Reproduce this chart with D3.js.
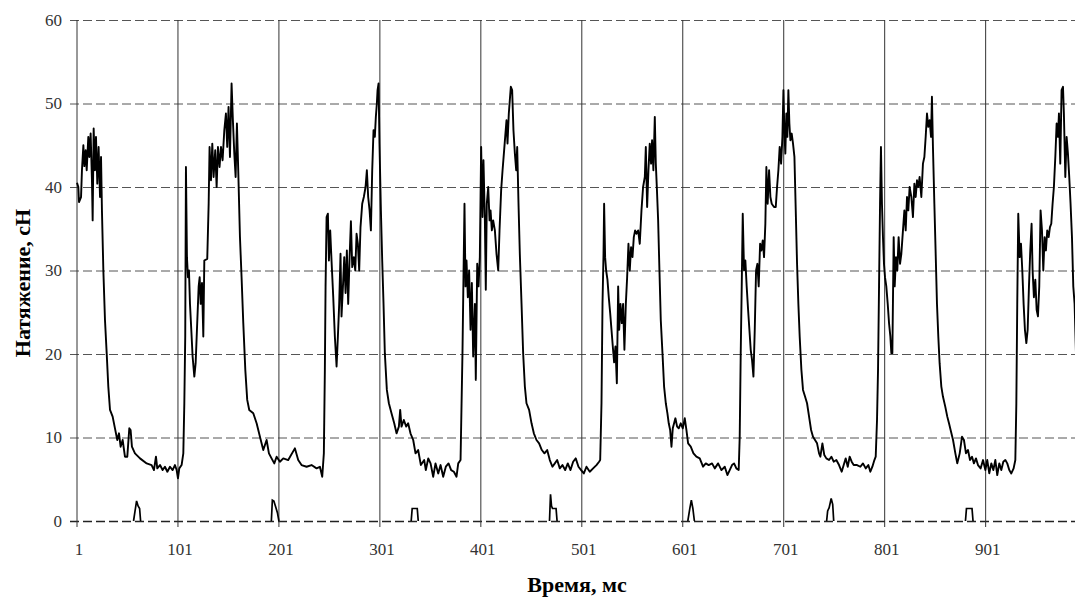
<!DOCTYPE html>
<html>
<head>
<meta charset="utf-8">
<script src="https://cdn.jsdelivr.net/npm/d3@7"></script>
<style>
  html, body { margin: 0; padding: 0; background: #fff; }
  svg { display: block; }
</style>
</head>
<body>
<div id="chart"></div>
<script>
// Tension trace: [time, ms ; tension, cN]
const tension = [
  [1.5,40.5],[2.8,40.0],[3.5,38.2],[5.5,38.8],[6.4,42.0],[7.8,45.0],[8.8,42.5],[10.1,44.4],[11.1,42.0],
  [12.7,46.0],[13.7,43.6],[15.0,46.4],[16.3,40.8],[17.0,36.0],[18.0,47.0],[19.3,42.0],[20.3,46.0],
  [21.6,40.4],[22.9,44.8],[24.3,38.8],[25.3,43.6],[26.2,37.2],[27.6,30.0],[29.2,24.1],[30.9,20.1],
  [32.5,16.1],[34.2,13.3],[36.8,12.5],[39.1,11.1],[41.4,9.7],[43.1,10.5],[44.7,8.9],[46.7,9.7],
  [49.0,7.7],[51.3,7.7],[53.3,11.1],[54.6,10.9],[55.9,8.9],[58.9,8.1],[63.9,7.5],[70.5,6.9],
  [75.4,6.7],[77.7,6.1],[79.7,7.7],[81.0,6.3],[83.7,6.7],[86.3,6.1],[88.6,6.5],[91.0,5.9],[93.6,6.5],
  [96.2,6.1],[98.5,6.7],[100.2,6.1],[101.5,5.1],[102.8,6.3],[105.1,6.7],[106.8,8.1],[107.8,14.1],
  [108.7,22.1],[109.4,42.4],[110.4,31.6],[111.4,29.2],[112.4,30.0],[113.4,26.0],[114.7,22.9],
  [116.0,19.7],[117.7,17.3],[119.0,18.9],[120.3,22.9],[122.0,28.1],[123.0,29.2],[124.0,26.0],
  [125.3,28.5],[126.6,22.1],[127.6,31.2],[130.5,31.4],[131.9,38.0],[132.8,44.8],[134.2,40.8],
  [135.5,45.2],[136.8,41.2],[138.4,44.4],[139.8,40.0],[141.1,44.8],[142.7,42.4],[144.1,44.8],
  [145.7,43.2],[147.4,46.8],[149.0,48.8],[150.3,44.8],[151.6,49.6],[153.0,43.6],[154.6,52.4],
  [155.9,48.0],[157.3,44.0],[158.6,41.2],[159.9,47.6],[161.2,42.0],[162.9,34.0],[164.5,29.2],
  [166.2,23.7],[168.2,18.1],[170.1,14.5],[172.1,13.3],
  [176.1,12.9],[179.4,11.7],[182.7,10.1],[186.0,8.5],[189.3,9.7],[191.6,8.1],[194.2,7.5],[196.9,6.9],
  [199.2,7.7],[202.5,7.1],[205.8,7.5],[210.7,7.3],[217.3,8.7],[220.6,7.3],[223.9,6.7],[228.9,6.5],
  [233.8,6.7],[238.8,6.3],[242.1,6.5],[244.4,5.3],[246.0,8.1],[247.0,18.1],[247.7,28.1],[248.7,36.4],
  [250.0,36.8],[251.0,31.2],[252.3,34.8],[253.6,31.2],[255.3,26.8],[256.9,22.1],[258.6,18.5],
  [259.9,22.1],[261.2,26.0],[262.5,32.0],[263.5,24.5],[264.9,28.1],[266.2,31.6],[267.5,27.3],
  [268.8,32.4],[270.1,26.0],[271.5,31.6],[272.8,35.9],[274.1,30.4],[275.7,31.6],[277.1,30.0],
  [278.4,34.4],[279.7,33.2],[281.0,30.0],[282.3,35.2],[284.0,38.0],[285.6,38.8],[287.3,40.0],
  [288.6,42.0],[289.9,38.8],[291.3,37.2],[292.6,34.8],[293.9,42.0],[295.2,46.8],[296.5,46.0],
  [297.5,48.4],[298.5,50.0],[299.2,51.6],[300.2,52.4],[301.1,45.2],[302.5,37.2],[303.8,31.2],
  [305.1,26.0],[306.4,20.1],[308.4,15.7],[310.4,14.1],[313.0,12.9],[315.7,11.7],[318.0,10.5],
  [320.3,11.3],[321.6,13.3],[322.9,11.3],[325.2,12.1],[327.6,11.3],[329.5,11.7],[331.8,10.5],
  [334.5,9.7],[336.8,8.1],[339.4,8.5],[342.1,6.7],[345.4,7.3],
  [347.0,6.1],[349.4,7.5],[351.7,6.9],[354.3,5.3],[356.6,6.9],[359.3,5.7],[361.6,6.7],[364.2,5.3],
  [366.8,6.5],[369.5,6.9],[372.1,6.1],[374.8,5.9],[377.4,5.3],[379.1,6.9],[381.4,7.3],[382.4,14.1],
  [383.3,20.1],[384.3,29.2],[385.3,38.0],[386.3,28.1],[387.3,31.2],[388.6,26.8],[389.9,30.0],
  [391.3,22.9],[392.6,28.5],[393.9,19.7],[395.6,26.0],[396.5,16.9],[397.9,30.8],[399.2,28.1],
  [400.5,31.6],[401.8,44.8],[403.1,36.4],[404.1,43.2],[405.5,36.0],[406.4,27.7],[407.4,38.0],
  [408.8,40.0],[410.1,36.0],[411.1,37.2],[412.4,34.8],[413.7,36.0],[415.4,34.8],[417.0,32.0],
  [418.7,30.0],[420.0,34.8],[421.6,39.6],[423.0,42.0],[424.3,44.0],[425.6,46.0],[426.9,48.0],
  [427.9,45.2],[429.2,48.8],[430.2,50.4],[431.2,52.0],[432.5,51.6],[433.8,46.8],[435.2,44.0],
  [436.5,42.0],[437.5,44.8],[438.8,38.0],[440.1,32.0],[441.8,26.0],[443.4,20.1],[445.1,16.1],
  [446.7,14.1],[449.3,13.3],[451.7,11.7],[454.0,10.5],[456.6,9.7],[459.2,9.3],[461.9,8.5],
  [464.5,8.1],[467.2,8.5],[469.8,7.3],[472.4,6.5],[474.8,6.9],[477.1,7.3],[479.7,6.3],[482.3,6.7],
  [485.0,6.1],[487.6,6.9],[490.3,6.1],[492.9,7.1],[495.5,7.5],[498.2,6.5],[500.8,6.1],[503.5,5.7],
  [506.1,6.5],[509.4,5.9],[512.7,6.3],[516.0,6.7],[518.6,7.1],
  [519.7,7.3],[521.0,14.1],[522.0,26.0],[523.0,32.0],[523.6,38.0],[524.6,31.6],[525.6,30.0],
  [526.9,28.9],[528.2,26.8],[529.6,24.9],[530.9,22.9],[532.2,20.9],[533.5,19.0],[534.8,20.9],
  [536.2,16.5],[537.5,28.1],[538.5,22.9],[539.8,26.0],[541.1,23.7],[542.4,26.0],[543.7,20.5],
  [545.1,26.0],[546.4,29.2],[547.7,33.2],[549.0,30.0],[550.3,32.8],[551.7,31.6],[553.0,34.0],
  [554.3,34.8],[555.6,34.4],[557.3,34.8],[558.9,33.2],[560.6,37.2],[562.2,40.0],[563.9,41.2],
  [564.9,44.8],[566.2,37.6],[567.5,42.0],[568.8,45.2],[570.1,42.8],[571.1,45.6],[572.4,42.0],
  [573.8,48.4],[574.8,42.8],[575.8,40.0],[577.1,36.0],[578.4,30.0],[579.7,24.1],[581.4,20.1],
  [583.0,16.1],[584.7,14.1],[586.3,12.9],[587.6,11.7],[589.0,10.9],[590.3,8.9],[591.6,11.1],
  [592.9,11.7],[594.2,12.3],[595.9,11.3],[597.5,11.1],[599.5,11.7],[601.5,11.1],[603.5,12.3],
  [605.1,10.9],[606.8,9.3],[609.4,8.9],[612.1,8.1],[615.0,7.7],[618.3,7.5],[621.6,6.5],[624.3,6.9],
  [627.2,6.7],[630.5,6.9],[633.2,6.3],[636.5,6.9],[639.8,6.1],[643.1,6.5],[645.7,5.5],[648.0,6.1],
  [650.3,6.7],[652.3,6.9],[654.6,6.3],[656.9,6.1],[657.9,10.1],[658.9,20.1],[659.9,28.1],
  [660.9,36.8],[662.2,30.0],[663.5,31.2],[664.8,28.1],[666.2,25.3],[667.5,22.9],[668.8,20.5],
  [670.1,19.3],[671.5,17.3],[672.8,22.9],[674.1,30.0],[675.4,30.8],[676.7,28.1],[678.1,33.2],
  [679.4,32.4],[680.7,33.6],[682.0,31.6],[683.3,35.6],[684.3,42.4],[685.6,38.0],[687.0,42.0],
  [688.3,38.8],[689.6,38.0],[691.9,37.6],
  [693.6,37.6],[694.9,40.0],[696.2,42.0],[697.5,44.8],[698.9,42.8],[700.2,46.0],[701.2,51.6],
  [702.2,46.4],[703.1,44.0],[704.1,48.8],[705.1,46.0],[706.1,51.6],[707.1,47.6],[708.1,45.6],
  [709.4,46.4],[710.7,45.2],[712.1,43.6],[713.4,37.2],[714.7,30.8],[716.0,26.0],[717.3,22.1],
  [719.0,18.1],[720.6,15.7],[722.6,14.9],[724.6,14.1],[726.6,12.5],[728.6,10.9],[730.5,10.1],
  [732.5,9.7],[734.5,9.3],[736.5,8.1],[737.8,7.7],[739.8,9.3],[741.7,7.9],[743.7,7.5],[746.4,7.3],
  [748.7,7.7],[751.0,7.1],[753.6,7.3],[756.3,6.7],[758.9,5.9],[760.9,6.7],[762.9,7.5],[764.9,6.5],
  [766.8,7.7],[768.8,7.1],[770.8,6.7],[774.1,6.7],[777.4,6.5],[780.0,6.9],[782.7,6.3],[785.3,6.7],
  [787.3,5.9],[789.3,6.5],[791.3,7.3],[792.6,7.7],[793.9,12.1],[794.9,18.1],[795.9,28.1],
  [796.9,38.0],[797.8,44.8],[798.8,38.0],[799.8,34.0],[800.8,30.8],[801.8,29.2],[803.1,28.1],
  [804.5,26.0],[805.8,23.7],[807.1,22.1],[808.1,20.1],[809.1,20.1],[810.4,34.0],[811.4,28.1],
  [812.7,31.6],[814.0,30.0],[815.3,34.0],[816.7,30.8],[818.0,32.0],[819.6,34.8],[821.0,37.2],
  [822.3,34.8],[823.6,38.8],[824.9,37.2],[826.2,40.0],[827.9,38.8],[829.5,36.4],[830.9,40.4],
  [832.2,38.8],[833.5,40.8],[834.8,40.0],[836.1,41.2],[837.8,38.8],[839.4,42.8],[840.8,43.6],
  [842.1,46.0],[843.4,48.8],[844.7,47.2],[846.0,48.0],[847.4,46.0],[848.3,50.8],[849.3,44.8],
  [850.7,38.0],[852.0,32.0],[853.3,26.0],[854.6,22.1],[855.9,18.9],[857.6,16.1],[859.2,14.9],
  [861.5,13.7],[863.5,12.5],[865.2,11.7],
  [866.8,10.9],[869.2,9.7],[871.5,8.1],[873.4,6.9],[875.8,8.1],[878.1,10.1],[880.0,9.7],[882.0,8.1],
  [884.0,8.5],[886.0,7.3],[888.0,7.7],[889.9,6.9],[891.9,7.5],[893.9,6.7],[896.5,6.3],[898.9,7.3],
  [901.2,6.1],[903.1,7.3],[905.1,5.7],[907.1,6.9],[909.1,6.1],[911.1,7.3],[913.0,5.5],[915.0,6.9],
  [917.0,6.1],[919.0,7.1],[921.0,7.3],[922.9,6.9],[924.9,6.1],[926.9,5.7],[929.2,6.3],[930.9,7.3],
  [931.9,14.1],[932.8,26.0],[933.8,36.8],[935.2,31.6],[936.5,33.2],[937.8,30.0],[939.1,26.0],
  [940.4,22.9],[941.8,21.3],[943.1,22.9],[944.4,28.1],[945.7,32.4],[947.0,35.6],[948.0,30.0],
  [949.3,26.8],[950.7,28.9],[952.0,25.3],[953.3,24.5],[954.6,28.1],[955.9,37.2],[957.3,34.8],
  [958.6,30.0],[959.9,34.0],[961.2,32.4],[962.5,34.8],[963.9,34.0],[965.2,35.2],[966.5,35.6],
  [967.8,38.0],[969.1,40.0],[970.5,43.6],[971.8,47.6],[973.1,46.0],[974.1,48.8],[975.4,42.8],
  [976.7,51.6],[978.1,52.0],[979.0,48.8],[980.4,41.2],[981.7,46.0],[983.0,44.0],[984.3,41.2],
  [985.6,38.0],[987.0,34.0],[988.3,28.1],[989.6,26.0],[991.0,20.0]
];

// Small marker pulses riding on the zero line: [time, ms ; value, cN]
const pulses = [
  [[57.5,0],[59,1.2],[60.5,2.4],[62,1.8],[63.5,1.5],[64.5,0]],
  [[194,0],[195,2.5],[196.5,2.4],[198,1.8],[200,1.0],[201.5,0]],
  [[332.5,0],[333.5,1.5],[338.5,1.5],[339.5,0]],
  [[469.5,0],[470.5,3.2],[471.5,1.8],[472.5,1.5],[476,1.5],[477,0]],
  [[606.5,0],[608.5,1.5],[610,2.5],[611.5,1.5],[613,0]],
  [[744,0],[745,1.2],[746.5,1.6],[748.5,2.7],[750,2.0],[751,0]],
  [[881.5,0],[882.5,1.5],[888,1.5],[889,0]]
];

const xTicks = [1, 101, 201, 301, 401, 501, 601, 701, 801, 901];
const yTicks = [0, 10, 20, 30, 40, 50, 60];
const xTitle = "Время, мс";
const yTitle = "Натяжение, сН";

const W = 1075, H = 599;
const plot = { left: 76.5, right: 1075, top: 20, bottom: 521 };
const serif = "'Liberation Serif', 'Times New Roman', 'DejaVu Serif', serif";

const svg = d3.select("#chart").append("svg")
  .attr("width", W).attr("height", H);

const x = d3.scaleLinear().domain([1, 990]).range([plot.left, plot.right]);
const y = d3.scaleLinear().domain([0, 60]).range([plot.bottom, plot.top]);

// horizontal dashed grid + y labels
svg.append("g")
  .attr("transform", "translate(70,0)")
  .call(d3.axisLeft(y).tickValues(yTicks).tickSize(-(W - 70)).tickPadding(8).tickSizeOuter(0))
  .attr("font-family", serif)
  .attr("font-size", 17)
  .call(g => g.select(".domain").remove())
  .call(g => g.selectAll(".tick line")
    .attr("stroke", d => d === 0 ? "#222" : "#555")
    .attr("stroke-width", d => d === 0 ? 1.3 : 1)
    .attr("stroke-dasharray", "9,4"))
  .call(g => g.selectAll(".tick text").attr("fill", "#333"));

// vertical solid grid + x labels
svg.append("g")
  .attr("transform", `translate(0,${plot.bottom + 6})`)
  .call(d3.axisBottom(x).tickValues(xTicks).tickSize(-(plot.bottom + 6 - plot.top)).tickPadding(16).tickSizeOuter(0))
  .attr("font-family", serif)
  .attr("font-size", 17)
  .call(g => g.select(".domain").remove())
  .call(g => g.selectAll(".tick line").attr("stroke", "#333").attr("stroke-width", 1))
  .call(g => g.selectAll(".tick text").attr("fill", "#333").attr("dx", 2));

const line = d3.line().x(d => x(d[0])).y(d => y(d[1]));

svg.append("path")
  .attr("d", line(tension))
  .attr("fill", "none")
  .attr("stroke", "#000")
  .attr("stroke-width", 1.9)
  .attr("stroke-linejoin", "round");

svg.append("g").selectAll("path")
  .data(pulses)
  .join("path")
  .attr("d", line)
  .attr("fill", "none")
  .attr("stroke", "#000")
  .attr("stroke-width", 1.7);

svg.append("text")
  .attr("x", 577).attr("y", 592)
  .attr("text-anchor", "middle")
  .attr("font-family", serif)
  .attr("font-weight", "bold")
  .attr("font-size", 22)
  .text(xTitle);

svg.append("text")
  .attr("transform", "translate(30,283) rotate(-90)")
  .attr("text-anchor", "middle")
  .attr("font-family", serif)
  .attr("font-weight", "bold")
  .attr("font-size", 22)
  .text(yTitle);
</script>
</body>
</html>
